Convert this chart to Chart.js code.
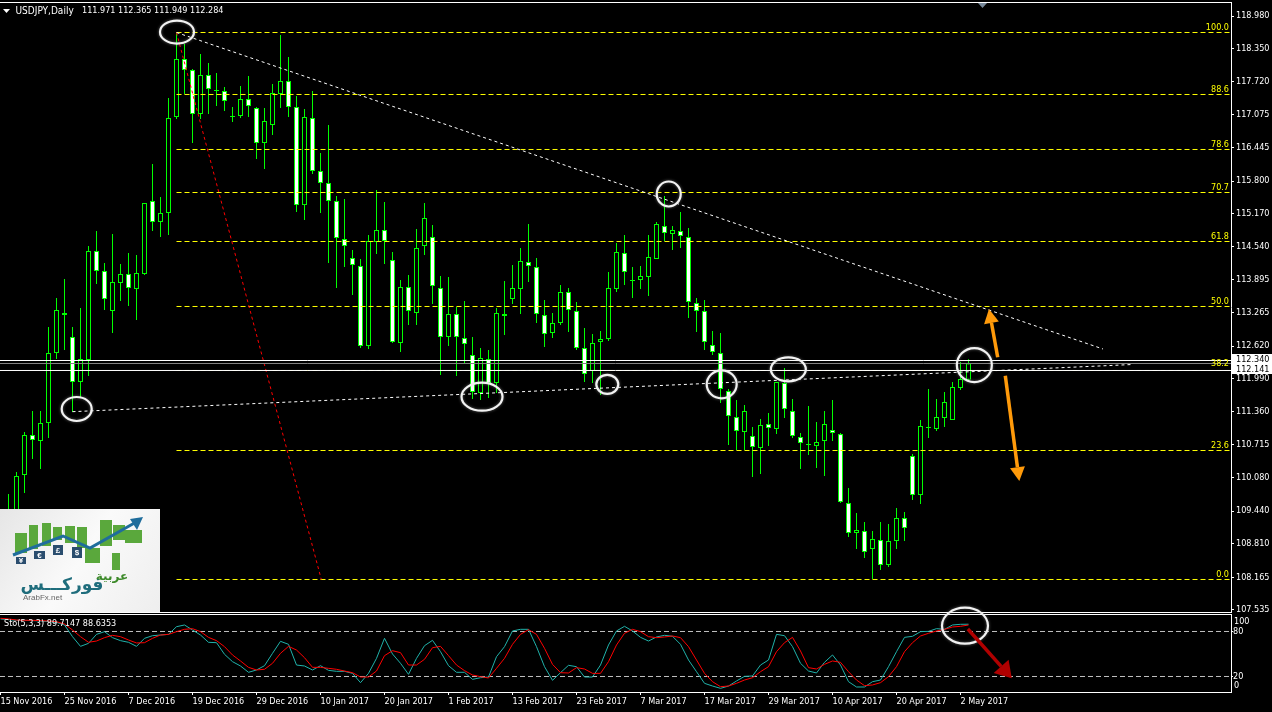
<!DOCTYPE html>
<html>
<head>
<meta charset="utf-8">
<title>USDJPY Daily</title>
<script src="https://cdn.jsdelivr.net/npm/chart.js"></script>
<style>
    html, body { margin: 0; padding: 0; background: #000; overflow: hidden; }
    canvas { position: absolute; left: 0; top: 0; }
</style>
</head>
<body>
<canvas id="priceChart" width="1272" height="712"></canvas>
<canvas id="stochChart" width="1272" height="712"></canvas>
<script>
// Candle data, one entry per bar (first bars are hidden by the logo)
const opens = [null,109.300,109.269,110.136,110.907,110.791,111.137,112.486,113.257,112.795,111.928,112.352,114.452,114.067,113.296,113.835,114.009,113.719,114.009,115.415,115.011,115.184,117.034,118.151,117.939,117.092,117.843,117.554,117.535,117.034,117.053,117.380,117.207,116.533,116.880,117.477,117.727,117.227,115.337,117.015,115.993,115.762,115.415,114.683,114.317,114.163,112.622,114.625,114.856,114.278,112.679,113.758,113.257,114.548,114.722,113.739,112.795,113.238,112.776,112.448,111.716,112.371,111.909,113.238,113.527,113.719,114.240,114.143,113.218,112.872,113.065,113.662,113.296,112.583,112.140,112.698,112.756,113.719,114.413,113.893,113.893,113.951,114.298,114.933,114.779,114.837,114.722,113.450,113.296,112.641,112.486,111.754,111.253,110.964,110.887,110.656,111.118,111.022,111.909,111.369,110.868,110.733,110.694,110.791,111.003,110.925,109.596,109.018,109.057,108.710,108.883,108.402,108.864,109.307,110.502,109.750,111.061,111.022,111.234,111.195,111.812,111.971];
const closes = [null,109.400,110.117,110.907,110.810,111.137,112.486,113.315,113.218,111.928,112.371,114.452,114.067,113.527,113.854,114.009,113.739,114.028,115.376,115.011,115.184,117.015,118.151,117.939,117.092,117.843,117.573,117.535,117.342,117.053,117.380,117.246,116.533,116.957,117.496,117.727,117.227,115.337,117.034,115.993,115.762,115.415,114.702,114.548,114.182,112.622,114.644,114.856,114.644,112.698,113.758,113.296,114.510,115.088,113.777,112.795,113.238,112.795,112.660,111.735,112.390,111.909,113.257,113.199,113.739,114.259,114.163,113.238,112.853,113.065,113.662,113.315,112.583,112.081,112.679,112.756,113.739,114.432,114.047,113.874,113.970,114.336,114.972,114.798,114.856,114.741,113.469,113.296,112.698,112.506,111.793,111.272,110.983,111.369,110.675,111.099,111.041,111.928,111.408,110.887,110.752,110.713,110.771,111.118,110.945,109.615,109.018,109.076,108.652,108.902,108.402,108.864,109.307,109.114,109.750,111.080,111.041,111.253,111.542,111.832,111.986,112.284];
const highs = [null,109.770,110.193,110.964,111.369,111.369,112.987,113.546,113.912,112.987,113.353,114.548,114.837,114.220,114.779,114.201,114.413,114.375,115.376,116.128,115.492,117.400,118.652,118.440,117.958,118.248,118.074,117.881,117.612,117.227,117.631,117.824,117.227,117.207,117.669,118.613,118.190,117.438,117.188,117.535,116.340,116.880,115.511,115.453,114.471,114.298,114.760,115.627,115.396,114.432,113.893,113.989,114.875,115.376,114.953,113.970,113.951,113.373,113.488,112.795,112.583,112.544,113.353,113.874,114.182,114.510,114.972,114.317,113.508,113.257,113.797,113.739,113.469,112.968,112.853,112.910,114.047,114.606,114.760,114.143,114.163,114.760,115.011,115.511,114.933,115.203,114.895,113.546,113.508,112.910,112.872,111.793,111.581,111.484,111.061,111.215,111.330,111.928,112.197,111.600,110.945,111.465,111.157,111.369,111.581,110.945,109.885,109.403,109.230,109.057,109.230,109.192,109.500,109.423,110.540,111.195,111.793,111.600,111.735,111.928,112.313,112.365];
const lows = [null,109.200,109.076,109.789,110.444,110.251,110.849,112.371,112.544,111.350,111.639,112.043,113.816,113.315,112.872,113.488,113.392,113.122,113.989,114.837,114.722,114.760,116.995,117.477,116.533,116.995,117.092,117.246,117.150,116.938,117.015,117.034,116.224,116.032,116.687,117.207,117.034,115.203,115.049,115.935,115.184,114.220,113.739,114.143,113.604,112.583,112.564,114.394,114.201,112.679,112.506,113.026,113.026,114.375,113.431,112.062,112.622,112.043,112.294,111.600,111.581,111.620,111.716,112.833,113.431,113.238,113.854,113.065,112.602,112.776,113.026,112.891,112.544,111.928,111.909,111.677,112.718,113.662,113.797,113.546,113.719,113.585,114.298,114.644,114.471,114.510,113.161,112.891,112.544,112.448,111.523,110.713,110.617,110.617,110.097,110.155,110.694,110.926,111.234,110.849,110.251,110.521,110.270,110.117,110.791,109.596,108.941,108.710,108.537,108.132,108.305,108.363,108.710,108.864,109.654,109.577,110.849,110.983,111.061,111.195,111.774,111.949];

// Stochastic %K and %D
const stochK = [96.7,95.8,94.9,94.9,94.5,94.0,93.1,92.2,88.7,73.1,60.2,64.2,76.2,79.8,71.8,67.8,65.6,60.2,70.9,74.4,75.3,76.2,86.4,88.7,82.0,75.3,65.6,65.1,49.6,39.8,34.0,25.6,28.7,34.4,50.9,66.9,62.9,35.3,34.0,28.7,34.4,28.2,26.9,26.9,24.2,11.8,24.2,44.2,70.9,50.0,37.6,22.9,44.2,61.1,68.2,53.1,34.4,25.6,25.6,16.2,18.4,19.3,46.4,59.8,80.7,82.9,82.9,59.8,33.1,14.9,25.1,34.9,33.1,19.3,19.3,35.3,62.0,80.7,86.9,80.7,72.2,67.3,72.7,74.9,73.6,62.9,42.0,26.4,10.9,7.3,4.2,7.3,14.0,20.2,20.7,35.3,42.0,76.2,74.4,59.8,37.6,27.3,24.7,38.9,48.7,35.3,13.1,6.0,6.0,13.1,15.3,33.1,53.1,72.2,73.6,79.8,80.2,83.8,82.9,88.7,89.6,89.71];
const stochD = [97.6,96.7,95.3,94.9,94.9,94.5,94.0,93.1,90.0,82.0,73.1,65.6,67.3,71.8,74.9,73.1,68.7,64.7,65.1,70.9,75.3,76.2,79.8,82.9,83.8,79.8,72.2,67.8,59.8,48.7,40.7,32.2,28.7,29.6,37.6,50.9,60.2,55.3,45.1,32.2,32.2,30.9,29.6,27.3,25.1,19.3,19.3,27.3,47.8,54.4,51.8,35.3,35.3,42.9,58.4,60.2,47.8,35.3,27.8,22.0,19.8,18.0,30.9,44.2,62.9,76.2,82.4,76.2,57.6,36.2,25.1,24.7,31.8,30.0,24.2,24.2,39.8,62.0,77.6,82.9,79.8,73.1,71.8,72.7,74.0,71.8,59.8,42.0,24.2,13.1,6.4,7.3,10.9,15.3,18.4,26.4,33.1,53.1,65.1,72.2,54.0,31.8,30.0,36.2,40.7,38.9,26.4,15.3,7.8,8.7,11.8,19.8,33.1,53.1,65.1,74.0,77.6,80.7,82.9,86.0,86.9,88.64];

// Axis ticks
const priceTicks = [118.980,118.350,117.720,117.075,116.445,115.800,115.170,114.540,113.895,113.265,112.620,111.990,111.360,110.715,110.080,109.440,108.810,108.165,107.535];
const stochLevels = [80, 20];
const dateLabels = ['15 Nov 2016','25 Nov 2016','7 Dec 2016','19 Dec 2016','29 Dec 2016','10 Jan 2017','20 Jan 2017','1 Feb 2017','13 Feb 2017','23 Feb 2017','7 Mar 2017','17 Mar 2017','29 Mar 2017','10 Apr 2017','20 Apr 2017','2 May 2017'];
const barsPerDateLabel = 8;

// Fibonacci levels, start at the swing high bar
const fibLabels = ['100.0','88.6','78.6','70.7','61.8','50.0','38.2','23.6','0.0'];
const fibPrices = [118.6621,117.4675,116.4078,115.5792,114.6351,113.3827,112.1496,110.6081,108.1226];
const fibStartBar = 22;

// Horizontal lines with their price boxes, and the gray last price line
const boxPrices = [112.3422, 112.1496];
const boxLabels = ['112.340', '112.141'];
const lastPrice = 112.2844;

// Trend lines as [bar, price] end points
const resistanceLine = [[22, 118.662], [137.81, 112.564]];
const supportLine = [[9, 111.356], [141.5, 112.265]];
const swingLine = [[22, 118.662], [40.1, 108.123]];

// Hand drawn marks as [bar, price, radiusX, radiusY]
const priceCircles = [[22.06,118.671,17,11.5],[9.525,111.408,15,12],[60.19,111.645,20.5,14],[75.85,111.883,11,9.5],[83.53,115.550,12,12.5],[90.15,111.883,15,14],[98.48,112.172,17.5,12],[121.73,112.255,17.5,17]];
const stochCircle = [120.56, 87.7, 23, 18];
const upArrow = [[124.65, 112.404], [123.56, 113.334]];
const downArrow = [[125.6, 112.049], [127.35, 110.020]];
const stochArrow = [[120.92, 83.3], [126.41, 17.6]];

// Layout: bar i sits at 8*i + 0.5 px, the price axis is 51.9 px per unit
const xMin = -0.0625;
const xMax = 153.8125;
const priceMax = 119.24975;
const priceMin = 107.49638;
const stochMax = 103.33;
const stochMin = -0.667;

const GREEN = '#00ff00';
const YELLOW = '#ffff00';
const FAMILY = '"DejaVu Sans Condensed", "Liberation Sans", Arial, sans-serif';
const FONT = '9px ' + FAMILY;
const tickFont = { family: FAMILY, size: 9 };

Chart.defaults.color = '#ffffff';

// Helpers to build the datasets
const barIndexes = opens.map((v, i) => i).filter(i => opens[i] !== null);

function bodies(test, fill) {
    return {
        label: 'bodies',
        data: barIndexes.filter(i => test(opens[i], closes[i])).map(i => ({ x: i, y: [Math.min(opens[i], closes[i]), Math.max(opens[i], closes[i])] })),
        backgroundColor: fill,
        borderColor: GREEN,
        borderWidth: 1,
        borderSkipped: false,
        barThickness: 5,
        inflateAmount: 0,
        grouped: false,
        order: 9
    };
}

function lineSet(points, color, dash) {
    return {
        type: 'line',
        data: points.map(p => ({ x: p[0], y: p[1] })),
        borderColor: color,
        borderWidth: 1,
        borderDash: dash,
        pointRadius: 0,
        tension: 0,
        order: 1
    };
}

function drawEllipse(chart, yId, mark) {
    const ctx = chart.ctx;
    ctx.save();
    ctx.strokeStyle = '#f2f2f2';
    ctx.lineWidth = 2.2;
    ctx.shadowColor = 'rgba(200,200,200,0.5)';
    ctx.shadowBlur = 3;
    ctx.beginPath();
    ctx.ellipse(chart.scales.x.getPixelForValue(mark[0]), chart.scales[yId].getPixelForValue(mark[1]), mark[2], mark[3], 0, 0, Math.PI * 2);
    ctx.stroke();
    ctx.restore();
}

function drawArrow(chart, yId, arrow, color, shaft, headWidth, headLength) {
    const ctx = chart.ctx;
    const x0 = chart.scales.x.getPixelForValue(arrow[0][0]);
    const y0 = chart.scales[yId].getPixelForValue(arrow[0][1]);
    const x1 = chart.scales.x.getPixelForValue(arrow[1][0]);
    const y1 = chart.scales[yId].getPixelForValue(arrow[1][1]);
    const angle = Math.atan2(y1 - y0, x1 - x0);
    ctx.save();
    ctx.translate(x1, y1);
    ctx.rotate(angle);
    ctx.fillStyle = color;
    ctx.strokeStyle = color;
    ctx.lineWidth = shaft;
    ctx.beginPath();
    ctx.moveTo(-headLength, 0);
    ctx.lineTo(-Math.hypot(x1 - x0, y1 - y0), 0);
    ctx.stroke();
    ctx.beginPath();
    ctx.moveTo(0, 0);
    ctx.lineTo(-headLength, -headWidth / 2);
    ctx.lineTo(-headLength, headWidth / 2);
    ctx.closePath();
    ctx.fill();
    ctx.restore();
}

function drawLogo(ctx) {
    // Green map strips as x, y, w, h
    const strips = [[15,533,12,20],[29,525,9,24],[42,523,9,23],[53,527,9,13],[65,526,10,17],[77,527,10,21],[85,548,15,15],[100,520,12,26],[113,525,12,15],[125,530,17,13],[112,553,8,17]];
    // Currency tags as x, y, w, h, symbol
    const tags = [[16,557,10,7,'¥'],[34,551,11,8,'€'],[53,545,10,10,'£'],[72,547,10,11,'$']];
    const bg = ctx.createLinearGradient(0, 509, 160, 612);
    bg.addColorStop(0, '#e6e6e6');
    bg.addColorStop(0.5, '#fafafa');
    bg.addColorStop(1, '#eeeeee');
    ctx.save();
    ctx.fillStyle = bg;
    ctx.fillRect(0, 509, 160, 103);
    ctx.fillStyle = '#5aa83c';
    strips.forEach(s => ctx.fillRect(s[0], s[1], s[2], s[3]));
    ctx.strokeStyle = '#1f6d9c';
    ctx.lineWidth = 3;
    ctx.beginPath();
    ctx.moveTo(13, 555);
    ctx.lineTo(63, 536);
    ctx.lineTo(90, 548);
    ctx.lineTo(138, 521);
    ctx.stroke();
    ctx.fillStyle = '#1f6d9c';
    ctx.beginPath();
    ctx.moveTo(143, 517);
    ctx.lineTo(130, 519);
    ctx.lineTo(137, 530);
    ctx.closePath();
    ctx.fill();
    ctx.font = 'bold 8px "Liberation Sans", Arial, sans-serif';
    ctx.textAlign = 'center';
    ctx.textBaseline = 'middle';
    tags.forEach(t => {
        ctx.fillStyle = '#2a4d6e';
        ctx.fillRect(t[0], t[1], t[2], t[3]);
        ctx.fillStyle = '#ffffff';
        ctx.fillText(t[4], t[0] + t[2] / 2, t[1] + t[3] / 2 + 0.5);
    });
    ctx.direction = 'rtl';
    ctx.fillStyle = '#3d8a2a';
    ctx.font = 'bold 12px "DejaVu Sans", sans-serif';
    ctx.fillText('عربية', 112, 577);
    ctx.fillStyle = '#1f6d7c';
    ctx.font = 'bold 17px "DejaVu Sans", sans-serif';
    ctx.fillText('فوركـــس', 62, 586);
    ctx.direction = 'ltr';
    ctx.fillStyle = '#666666';
    ctx.font = '8px "Liberation Sans", Arial, sans-serif';
    ctx.textAlign = 'left';
    ctx.fillText('ArabFx.net', 23, 598);
    ctx.restore();
}

// Everything MT4 paints over the price window: labels, price boxes, drawings, logo
const priceOverlay = {
    id: 'priceOverlay',
    afterDraw(chart) {
        const ctx = chart.ctx;
        const y = chart.scales.y;
        ctx.save();
        ctx.fillStyle = '#ffffff';
        ctx.fillRect(0, 2, 1231, 1);
        ctx.fillRect(0, 612, 1231, 1);

        // Chart shift marker and window menu marker
        ctx.fillStyle = '#778899';
        ctx.beginPath();
        ctx.moveTo(978, 3);
        ctx.lineTo(987, 3);
        ctx.lineTo(982.5, 8);
        ctx.closePath();
        ctx.fill();
        ctx.fillStyle = '#ffffff';
        ctx.beginPath();
        ctx.moveTo(3, 9);
        ctx.lineTo(10, 9);
        ctx.lineTo(6.5, 13);
        ctx.closePath();
        ctx.fill();

        ctx.font = '10px ' + FAMILY;
        ctx.textBaseline = 'middle';
        ctx.textAlign = 'left';
        ctx.fillText('USDJPY,Daily', 15.5, 11);
        ctx.font = FONT;
        ctx.fillText('111.971', 82, 11);
        ctx.fillText('112.365', 118, 11);
        ctx.fillText('111.949', 154, 11);
        ctx.fillText('112.284', 190, 11);

        // Fibonacci level names sit on top of their lines
        ctx.fillStyle = YELLOW;
        ctx.textAlign = 'right';
        ctx.textBaseline = 'bottom';
        fibLabels.forEach((label, i) => {
            ctx.fillText(label, 1229, y.getPixelForValue(fibPrices[i]) - (i === 6 ? 2 : 0));
        });

        // White boxes on the axis for the two horizontal lines
        ctx.fillStyle = '#ffffff';
        ctx.fillRect(1232, 354, 40, 20);
        ctx.fillStyle = '#000000';
        ctx.textAlign = 'left';
        ctx.textBaseline = 'middle';
        ctx.fillText(boxLabels[0], 1236, 359.5);
        ctx.fillText(boxLabels[1], 1236, 369.5);
        ctx.restore();

        priceCircles.forEach(c => drawEllipse(chart, 'y', c));
        drawArrow(chart, 'y', upArrow, '#ff9a0a', 3.5, 15, 14);
        drawArrow(chart, 'y', downArrow, '#ff9a0a', 3.5, 15, 14);
        drawLogo(ctx);
    }
};

const stochOverlay = {
    id: 'stochOverlay',
    afterDraw(chart) {
        const ctx = chart.ctx;
        ctx.save();
        ctx.fillStyle = '#ffffff';
        ctx.fillRect(0, 614, 1231, 1);
        ctx.font = FONT;
        ctx.textBaseline = 'middle';
        ctx.textAlign = 'left';
        ctx.fillText('Sto(5,3,3) 89.7147 88.6353', 4, 623.5);
        // MT4 pulls the 100 and 0 labels inside the window
        ctx.fillText('100', 1234, 622);
        ctx.fillText('0', 1234, 686);
        ctx.restore();
        drawEllipse(chart, 'y', stochCircle);
        drawArrow(chart, 'y', stochArrow, '#b00000', 3.5, 20, 16);
    }
};

// Price window. Chart.js paints the first dataset of an order last, so it lands on top
new Chart(document.getElementById('priceChart'), {
    type: 'bar',
    data: {
        datasets: [
            {
                label: 'wicks',
                data: barIndexes.map(i => ({ x: i, y: [lows[i], highs[i]] })),
                backgroundColor: GREEN,
                borderWidth: 0,
                barThickness: 1,
                inflateAmount: 0,
                grouped: false,
                order: 10
            },
            bodies((o, c) => c >= o, '#000000'),
            bodies((o, c) => c < o, '#ffffff'),
            lineSet([[xMin, boxPrices[0]], [xMax, boxPrices[0]]], '#ffffff', []),
            lineSet([[xMin, boxPrices[1]], [xMax, boxPrices[1]]], '#ffffff', []),
            lineSet([[xMin, lastPrice], [xMax, lastPrice]], '#808080', []),
            lineSet(resistanceLine, '#ffffff', [3, 3]),
            lineSet(supportLine, '#ffffff', [3, 3]),
            lineSet(swingLine, '#ff0000', [3, 3]),
            ...fibPrices.map(p => lineSet([[fibStartBar, p], [xMax, p]], YELLOW, [5, 3]))
        ]
    },
    options: {
        responsive: false,
        animation: false,
        devicePixelRatio: 1,
        events: [],
        layout: { padding: { top: 2, bottom: 100, left: 0, right: 0 } },
        plugins: { legend: { display: false }, tooltip: { enabled: false } },
        scales: {
            x: { type: 'linear', display: false, offset: false, min: xMin, max: xMax, grid: { display: false, offset: false } },
            y: {
                type: 'linear',
                position: 'right',
                min: priceMin,
                max: priceMax,
                afterBuildTicks: s => { s.ticks = priceTicks.map(v => ({ value: v })); },
                afterFit: s => { s.width = 41; s.paddingTop = 0; s.paddingBottom = 0; },
                grid: { drawOnChartArea: false, color: '#ffffff', tickLength: 3 },
                border: { display: true, color: '#ffffff', width: 1 },
                ticks: { autoSkip: false, padding: 2, color: '#ffffff', font: tickFont, callback: v => v.toFixed(3) }
            }
        }
    },
    plugins: [priceOverlay]
});

// Stochastic window, transparent canvas on top so its drawings can cross the window border
new Chart(document.getElementById('stochChart'), {
    type: 'line',
    data: {
        datasets: [
            lineSet(stochD.map((v, i) => [i, v]), '#ff0000', []),
            lineSet(stochK.map((v, i) => [i, v]), '#20b2aa', []),
            ...stochLevels.map(l => lineSet([[xMin, l], [xMax, l]], '#c0c0c0', [5, 3]))
        ]
    },
    options: {
        responsive: false,
        animation: false,
        devicePixelRatio: 1,
        events: [],
        layout: { padding: { top: 614, bottom: 0, left: 0, right: 0 } },
        plugins: { legend: { display: false }, tooltip: { enabled: false } },
        scales: {
            x: {
                type: 'linear',
                min: xMin,
                max: xMax,
                afterBuildTicks: s => { s.ticks = dateLabels.map((d, i) => ({ value: i * barsPerDateLabel })); },
                afterFit: s => { s.height = 20; s.paddingLeft = 0; s.paddingRight = 0; },
                grid: { drawOnChartArea: false, color: '#ffffff', tickLength: 3 },
                border: { display: true, color: '#ffffff', width: 1 },
                ticks: {
                    autoSkip: false,
                    maxRotation: 0,
                    align: 'start',
                    padding: 1,
                    color: '#ffffff',
                    font: tickFont,
                    callback: v => dateLabels[v / barsPerDateLabel]
                }
            },
            y: {
                type: 'linear',
                position: 'right',
                min: stochMin,
                max: stochMax,
                afterBuildTicks: s => { s.ticks = stochLevels.map(v => ({ value: v })); },
                afterFit: s => { s.width = 41; s.paddingTop = 0; s.paddingBottom = 0; },
                grid: { drawOnChartArea: false, color: '#ffffff', tickLength: 2 },
                border: { display: true, color: '#ffffff', width: 1 },
                ticks: { autoSkip: false, padding: 0, color: '#ffffff', font: tickFont }
            }
        }
    },
    plugins: [stochOverlay]
});
</script>
</body>
</html>
